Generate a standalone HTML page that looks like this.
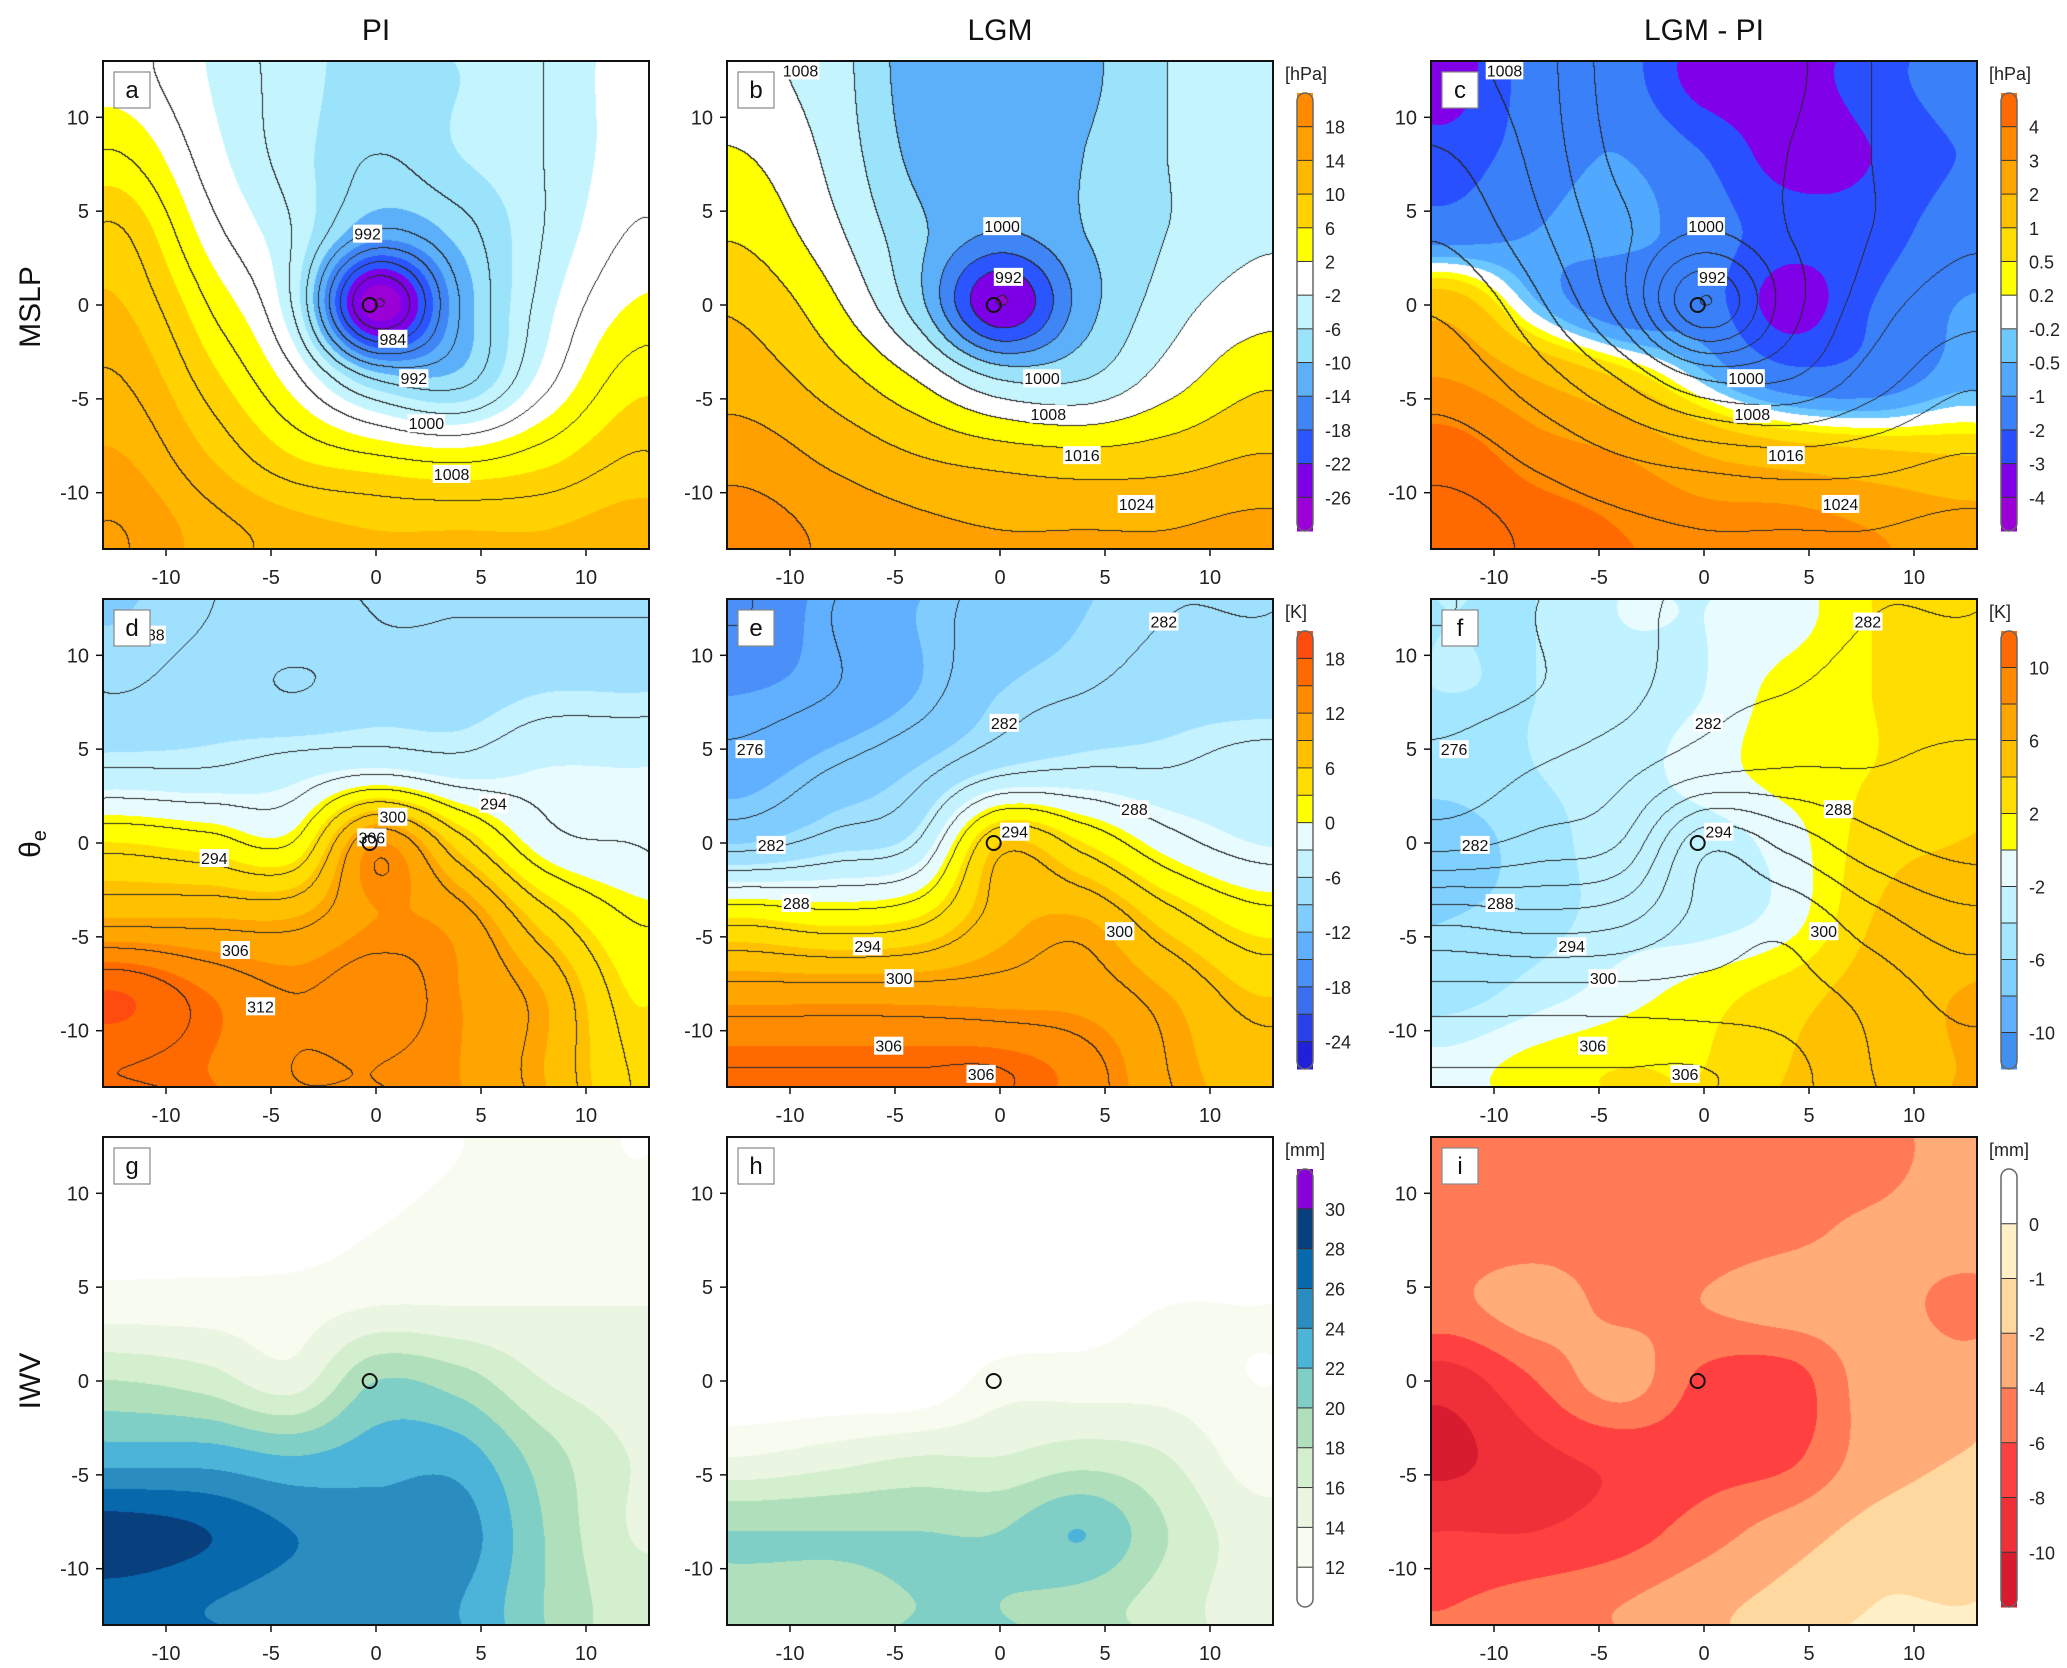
<!DOCTYPE html>
<html><head><meta charset="utf-8">
<style>
html,body{margin:0;padding:0;background:#fff;}
#root{position:relative;width:2067px;height:1668px;overflow:hidden;font-family:"Liberation Sans",sans-serif;}
canvas{position:absolute;}
svg{position:absolute;left:0;top:0;}
</style></head>
<body>
<div id="root">
<svg id="ov" width="2067" height="1668"></svg>
</div>
<script>
// Grid rows: y = 12,8,4,0,-4,-8,-12 ; cols: x = -12,-8,-4,0,4,8,12
const gridYs = [12, 8, 4, 0, -4, -8, -12];
const gridXs = [-12, -8, -4, 0, 4, 8, 12];

const mslpPI = [
 [1,-2,-5,-7,-6,-4,-1],
 [4,-1,-5,-8,-6,-4,-1],
 [8,1,-4,-12,-9,-4,0],
 [10,4,-4,-28,-12,-3,2],
 [12,7,1,-8,-9,-1,5],
 [14,10,6,4,3,5,8],
 [16,13,11,10,10,10,11]];
const mslpLGM = [
 [-1,-4,-12,-13,-11,-6,-4],
 [2,-3,-11,-13,-10,-6,-4],
 [5,-1,-9,-14,-10,-6,-3],
 [9,3,-8,-26,-12,-4,0],
 [12,8,2,-6,-6,0,5],
 [16,13,10,8,7,8,10],
 [20,17,15,14,14,14,15]];
const mslpDiff = [
 [-3.5,-1.5,-1.5,-3.5,-3.5,-2.5,-1.5],
 [-2.5,-1.5,-1,-2,-3.5,-3,-2],
 [-1.5,-1,-0.7,-1.5,-2.5,-2.5,-1.5],
 [1.5,-0.4,-1.5,-1.5,-3.5,-2,-1],
 [3,2,1,-0.3,-1.5,-1.5,-0.7],
 [4.5,3.5,3,2,1.5,1.2,1],
 [5,4.5,4,3.5,3.5,3,2.5]];
const thePI = [
 [-9,-8,-7,-8,-8,-8,-8],
 [-8,-7,-8,-7,-7,-6,-6],
 [-5,-5,-4,-3,-4,-3,-3],
 [3,2,1,12,5,-1,-2],
 [9,9,9,12,11,5,1],
 [18,15,13,14,12,9,3],
 [16,15,13,13,12,9,4]];
const theLGM = [
 [-17,-14,-12,-10,-9,-8,-8],
 [-15,-14,-12,-9,-8,-7,-7],
 [-13,-11,-9,-6,-5,-5,-4],
 [-9,-7,-5,6,3,-1,-3],
 [3,2,3,8,9,5,2],
 [11,11,11,11,11,9,6],
 [16,16,16,16,14,10,8]];
const theDiff = [
 [-4,-4,-2,-2,-1,2,3],
 [-4,-4,-3,-2,1,2,3],
 [-5,-4,-3,-1,1,2,3],
 [-7,-5,-3,-3,-1,3,4],
 [-6,-5,-3,-3,-1,4,5],
 [-5,-3,-1,1,3,5,6],
 [-1,1,2,2,4,5,6]];
const iwvPI = [
 [11,11,11,11,12,13,12],
 [11,11,11,12,13,13,13],
 [13,13,13,14,14,14,14],
 [18,17,15,20,19,16,15],
 [23,23,22,23,23,19,16],
 [29,28,26,25,25,20,16],
 [27,26,25,25,24,20,17]];
const iwvLGM = [
 [10,10,10,10,10,10,10],
 [10,10,10,10,10,10,10],
 [10,10,10,10,11,12,12],
 [10,10,10,13,13,13,12],
 [14,15,16,16,17,16,13],
 [20,20,20,20,22,18,15],
 [19,19,20,20,19,17,15]];
const iwvDiff = [
 [-5,-5,-5,-5,-5,-5,-3],
 [-5,-5,-5,-5,-4.5,-3.5,-3],
 [-4.5,-3,-4.5,-4,-3,-3,-4.5],
 [-9,-6,-3,-6.5,-7,-3,-3],
 [-10.5,-8.5,-7.5,-7,-6.5,-3,-2],
 [-8,-8,-7,-5,-3,-1.5,-1.5],
 [-6,-5,-4,-2.5,-1.5,-1,-1]];

const boundsMslp = [-26,-22,-18,-14,-10,-6,-2,2,6,10,14,18];
const colorsMslp = ['#9b00d6','#7d00e6','#2b55ff','#3f85f5','#5cb0fa','#9be3fb','#c4f5ff','#ffffff','#ffff00','#ffd200','#ffb700','#ffa000','#ff8a00'];
const ticksMslp = ['-26','-22','-18','-14','-10','-6','-2','2','6','10','14','18'];
const boundsMslpD = [-4,-3,-2,-1,-0.5,-0.2,0.2,0.5,1,2,3,4];
const colorsMslpD = ['#9a00d6','#8000e8','#2850ff','#3a80f8','#50a8ff','#6cc8ff','#ffffff','#ffff00','#ffdd00','#ffc000','#ffa500','#ff8a00','#ff6a00'];
const ticksMslpD = ['-4','-3','-2','-1','-0.5','-0.2','0.2','0.5','1','2','3','4'];
const boundsThe = [-24,-21,-18,-15,-12,-9,-6,-3,0,3,6,9,12,15,18];
const colorsThe = ['#2020d8','#2a40e8','#3a70f0','#4a90f8','#60b0ff','#80ccff','#a0e0ff','#c4f2ff','#e8fcff','#ffff00','#ffdd00','#ffc000','#ffa500','#ff8c00','#ff6a00','#ff4a10'];
const ticksThe = ['-24','','-18','','-12','','-6','','0','','6','','12','','18'];
const boundsTheD = [-10,-8,-6,-4,-2,0,2,4,6,8,10];
const colorsTheD = ['#4090f0','#60b0ff','#80d0ff','#a2e6ff','#c0f2ff','#e8fcff','#ffff00','#ffdd00','#ffc000','#ffa500','#ff8a00','#ff6a00'];
const ticksTheD = ['-10','','-6','','-2','','2','','6','','10'];
const boundsIwv = [12,14,16,18,20,22,24,26,28,30];
const colorsIwv = ['#ffffff','#f8fcf0','#eaf6e2','#d4efcd','#b0e0bb','#7fcfc6','#4cb4d8','#2b8cc0','#0868ac','#08407e','#8a00d8'];
const ticksIwv = ['12','14','16','18','20','22','24','26','28','30'];
const boundsIwvD = [-10,-8,-6,-4,-2,-1,0];
const colorsIwvD = ['#d81c30','#f03038','#ff4040','#ff7a55','#ffac78','#ffd8a0','#fff0c8','#ffffff'];
const ticksIwvD = ['-10','-8','-6','-4','-2','-1','0'];

const labelsA = [[992,-0.4,3.8],[984,0.8,-1.8],[992,1.8,-3.9],[1000,2.4,-6.3],[1008,3.6,-9.0]];
const labelsB = [[1008,-9.5,12.5],[1000,0.1,4.2],[992,0.4,1.5],[1000,2,-3.9],[1008,2.3,-5.8],[1016,3.9,-8.0],[1024,6.5,-10.6]];
const labelsD = [[288,-10.7,11.1],[294,-7.7,-0.8],[300,0.8,1.4],[306,-0.2,0.3],[294,5.6,2.1],[306,-6.7,-5.7],[312,-5.5,-8.7]];
const labelsE = [[282,7.8,11.8],[276,-11.9,5],[282,0.2,6.4],[288,6.4,1.8],[282,-10.9,-0.1],[294,0.7,0.6],[288,-9.7,-3.2],[294,-6.3,-5.5],[300,-4.8,-7.2],[300,5.7,-4.7],[306,-5.3,-10.8],[306,-0.9,-12.3]];
const xTickVals = [-10,-5,0,5,10];
const yTickVals = [10,5,0,-5,-10];

const colX=[103,727,1431], rowY=[61,599,1137], W=546, H=488;
const panels = [
 {L:'a',c:0,r:0,g:mslpPI,b:boundsMslp,cl:colorsMslp,cg:mslpPI,off:1004,st:4,lab:labelsA},
 {L:'b',c:1,r:0,g:mslpLGM,b:boundsMslp,cl:colorsMslp,cg:mslpLGM,off:1006,st:4,lab:labelsB,cb:[ticksMslp,'[hPa]']},
 {L:'c',c:2,r:0,g:mslpDiff,b:boundsMslpD,cl:colorsMslpD,cg:mslpLGM,off:1006,st:4,lab:labelsB,cb:[ticksMslpD,'[hPa]']},
 {L:'d',c:0,r:1,g:thePI,b:boundsThe,cl:colorsThe,cg:thePI,off:293,st:3,lab:labelsD},
 {L:'e',c:1,r:1,g:theLGM,b:boundsThe,cl:colorsThe,cg:theLGM,off:290,st:3,lab:labelsE,cb:[ticksThe,'[K]']},
 {L:'f',c:2,r:1,g:theDiff,b:boundsTheD,cl:colorsTheD,cg:theLGM,off:290,st:3,lab:labelsE,cb:[ticksTheD,'[K]']},
 {L:'g',c:0,r:2,g:iwvPI,b:boundsIwv,cl:colorsIwv},
 {L:'h',c:1,r:2,g:iwvLGM,b:boundsIwv,cl:colorsIwv,cb:[ticksIwv,'[mm]']},
 {L:'i',c:2,r:2,g:iwvDiff,b:boundsIwvD,cl:colorsIwvD,cb:[ticksIwvD,'[mm]']}
];

function cr(p0,p1,p2,p3,t){return 0.5*((2*p1)+(-p0+p2)*t+(2*p0-5*p1+4*p2-p3)*t*t+(-p0+3*p1-3*p2+p3)*t*t*t);}
function sample(g,x,y){
  const u=(x+12)/4, v=(12-y)/4;
  const iu=Math.max(0,Math.min(5,Math.floor(u))), iv=Math.max(0,Math.min(5,Math.floor(v)));
  const tu=Math.max(-0.3,Math.min(1.3,u-iu)), tv=Math.max(-0.3,Math.min(1.3,v-iv));
  const G=(i,j)=>g[Math.max(0,Math.min(6,j))][Math.max(0,Math.min(6,i))];
  const rows=[];
  for(let j=iv-1;j<=iv+2;j++) rows.push(cr(G(iu-1,j),G(iu,j),G(iu+1,j),G(iu+2,j),tu));
  return cr(rows[0],rows[1],rows[2],rows[3],tv);
}
function hex(h){return [parseInt(h.substr(1,2),16),parseInt(h.substr(3,2),16),parseInt(h.substr(5,2),16)];}
const NS='http://www.w3.org/2000/svg';
const ov=document.getElementById('ov');
function el(tag,attrs,parent){const e=document.createElementNS(NS,tag);for(const k in attrs)e.setAttribute(k,attrs[k]);(parent||ov).appendChild(e);return e;}
function txt(s,attrs,parent){const e=el('text',attrs,parent);e.textContent=s;return e;}

panels.forEach(p=>{
  const left=colX[p.c], top=rowY[p.r];
  const cv=document.createElement('canvas');
  cv.width=W; cv.height=H; cv.style.left=left+'px'; cv.style.top=top+'px';
  
  
  document.getElementById('root').insertBefore(cv,ov);
  const ctx=cv.getContext('2d');
  const img=ctx.createImageData(W,H);
  const cols=p.cl.map(hex);
  const lev=new Int32Array(W*H);
  for(let py=0;py<H;py++){
    const y=13-(py+0.5)/H*26;
    for(let px=0;px<W;px++){
      const x=-13+(px+0.5)/W*26;
      const v=sample(p.g,x,y);
      let k=0; while(k<p.b.length && v>=p.b[k]) k++;
      const c=cols[k], o=(py*W+px)*4;
      img.data[o]=c[0];img.data[o+1]=c[1];img.data[o+2]=c[2];img.data[o+3]=255;
      if(p.cg){lev[py*W+px]=Math.floor((sample(p.cg,x,y)+p.off)/p.st);}
    }
  }
  if(p.cg){
    for(let py=0;py<H-1;py++)for(let px=0;px<W-1;px++){
      const i=py*W+px;
      if(lev[i]!==lev[i+1]||lev[i]!==lev[i+W]){const o=i*4;img.data[o]=40;img.data[o+1]=40;img.data[o+2]=40;}
    }
  }
  ctx.putImageData(img,0,0);
  const sx=v=>left+(v+13)/26*W, sy=v=>top+(13-v)/26*H;
  const gp=el('g',{});
   
  (p.lab||[]).forEach(l=>{
    const w=String(l[0]).length*8.4+4;
    const r=el('rect',{x:sx(l[1])-w/2,y:sy(l[2])-9,width:w,height:18,fill:'#fff'},gp);
     
    const t=txt(String(l[0]),{x:sx(l[1]),y:sy(l[2])+6,'font-size':16,'text-anchor':'middle',fill:'#111'},gp);
     
  });
  const cm=el('circle',{cx:sx(-0.3),cy:sy(0),r:7,fill:'none',stroke:'#111','stroke-width':2},gp);
   
  const fr=el('rect',{x:left,y:top,width:W,height:H,fill:'none',stroke:'#111','stroke-width':2},gp);
   
  const lb=el('rect',{x:left+11,y:top+11,width:36,height:36,fill:'#fff',stroke:'#888','stroke-width':1.2},gp);
   
  const lt=txt(p.L,{x:left+29,y:top+37,'font-size':24,'text-anchor':'middle',fill:'#111'},gp);
   
  xTickVals.forEach(v=>{
    el('line',{x1:sx(v),x2:sx(v),y1:top+H,y2:top+H+7,stroke:'#111','stroke-width':1.5},gp);
    const t=txt(String(v),{x:sx(v),y:top+H+35,'font-size':20,'text-anchor':'middle',fill:'#222'},gp);
     
  });
  yTickVals.forEach(v=>{
    el('line',{x1:left-7,x2:left,y1:sy(v),y2:sy(v),stroke:'#111','stroke-width':1.5},gp);
    const t=txt(String(v),{x:left-14,y:sy(v)+7,'font-size':20,'text-anchor':'end',fill:'#222'},gp);
     
  });
  if(p.cb){
    const bx=left+W+24, by0=top+32, bh=438, n=p.cl.length, bw=16;
    const cbg=el('g',{},gp);
     
    const unit=txt(p.cb[1],{x:bx-12,y:top+19,'font-size':18,fill:'#222'},cbg);
     
    const seg=bh/n;
    for(let k=0;k<n;k++){
      const y=by0+bh-(k+1)*seg;
      const r=el('rect',{x:bx,y:y,width:bw,height:seg+0.5,fill:p.cl[k]},cbg);
       
      if(k>0) el('line',{x1:bx,x2:bx+bw,y1:y+seg,y2:y+seg,stroke:'#333','stroke-width':1},cbg);
    }
    el('rect',{x:bx,y:by0,width:bw,height:bh,rx:8,fill:'none',stroke:'#666','stroke-width':1.5},cbg);
    p.cb[0].forEach((s,k)=>{
      if(!s) return;
      const t=txt(s,{x:bx+bw+12,y:by0+bh-(k+1)*seg+7,'font-size':18,fill:'#222'},cbg);
       
    });
  }
});
[['PI',376],['LGM',1000],['LGM - PI',1704]].forEach(c=>{
  const t=txt(c[0],{x:c[1],y:40,'font-size':30,'text-anchor':'middle',fill:'#111'});
   
});
[['MSLP',307],['θ',844],['IWV',1381]].forEach(r=>{
  const t=txt(r[0],{x:0,y:0,'font-size':30,'text-anchor':'middle',fill:'#111',transform:'translate(40,'+r[1]+') rotate(-90)'});
   
  if(r[0]==='θ'){const s=el('tspan',{'font-size':20,dy:6},t);s.textContent='e';}
});
</script>
</body></html>
